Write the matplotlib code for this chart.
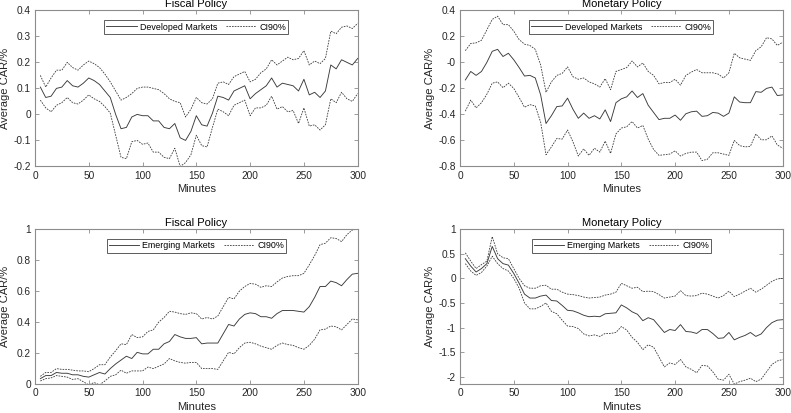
import numpy as np
import matplotlib
matplotlib.use("Agg")
import matplotlib.pyplot as plt

# minutes after announcement
minutes = np.arange(5, 301, 5)

# Fiscal policy, developed markets
fd_mean = [0.105, 0.065, 0.07, 0.10, 0.105, 0.13, 0.11, 0.105, 0.12, 0.14,
           0.13, 0.115, 0.09, 0.065, 0.0, -0.055, -0.05, -0.01, 0.0, -0.005,
           -0.005, -0.025, -0.025, -0.05, -0.055, -0.035, -0.09, -0.1, -0.065, -0.005,
           -0.04, -0.045, 0.005, 0.07, 0.065, 0.055, 0.09, 0.1, 0.11, 0.06,
           0.08, 0.095, 0.11, 0.14, 0.105, 0.12, 0.115, 0.11, 0.09, 0.135,
           0.075, 0.085, 0.065, 0.09, 0.19, 0.175, 0.21, 0.2, 0.19, 0.215]
fd_up = [0.15, 0.105, 0.14, 0.17, 0.17, 0.2, 0.18, 0.17, 0.19, 0.205,
         0.195, 0.18, 0.155, 0.125, 0.09, 0.055, 0.065, 0.08, 0.1, 0.105,
         0.105, 0.1, 0.095, 0.08, 0.06, 0.05, 0.045, -0.01, 0.02, 0.065,
         0.045, 0.04, 0.06, 0.12, 0.125, 0.115, 0.145, 0.155, 0.165, 0.125,
         0.135, 0.16, 0.175, 0.21, 0.19, 0.205, 0.22, 0.21, 0.215, 0.245,
         0.19, 0.205, 0.195, 0.215, 0.32, 0.31, 0.335, 0.34, 0.33, 0.35]
fd_lo = [0.055, 0.025, 0.01, 0.035, 0.045, 0.065, 0.045, 0.04, 0.055, 0.075,
         0.06, 0.05, 0.03, 0.005, -0.08, -0.165, -0.17, -0.105, -0.1, -0.115,
         -0.11, -0.145, -0.145, -0.165, -0.17, -0.13, -0.2, -0.185, -0.155, -0.08,
         -0.12, -0.125, -0.05, 0.02, 0.01, -0.005, 0.035, 0.045, 0.055, -0.005,
         0.025, 0.025, 0.035, 0.07, 0.02, 0.03, 0.01, 0.015, -0.035, 0.025,
         -0.045, -0.04, -0.06, -0.04, 0.06, 0.045, 0.085, 0.06, 0.05, 0.08]

# Monetary policy, developed markets
md_mean = [-0.135, -0.07, -0.1, -0.07, 0.0, 0.085, 0.1, 0.045, 0.07, 0.02,
           -0.04, -0.105, -0.1, -0.12, -0.25, -0.47, -0.41, -0.34, -0.335, -0.275,
           -0.36, -0.43, -0.39, -0.43, -0.41, -0.435, -0.365, -0.455, -0.31, -0.28,
           -0.265, -0.22, -0.27, -0.24, -0.33, -0.385, -0.44, -0.43, -0.43, -0.405,
           -0.445, -0.395, -0.38, -0.375, -0.415, -0.41, -0.385, -0.39, -0.415, -0.39,
           -0.265, -0.305, -0.31, -0.31, -0.225, -0.23, -0.2, -0.19, -0.255, -0.25]
md_up = [0.09, 0.145, 0.15, 0.17, 0.25, 0.33, 0.355, 0.29, 0.29, 0.24,
         0.175, 0.14, 0.13, 0.1, -0.02, -0.23, -0.15, -0.1, -0.085, -0.035,
         -0.11, -0.13, -0.12, -0.15, -0.165, -0.19, -0.125, -0.21, -0.07, -0.055,
         -0.04, 0.01, -0.035, -0.005, -0.07, -0.1, -0.165, -0.155, -0.155, -0.13,
         -0.175, -0.1, -0.075, -0.055, -0.08, -0.08, -0.08, -0.09, -0.12, -0.08,
         0.07, 0.035, 0.025, 0.015, 0.09, 0.12, 0.19, 0.18, 0.13, 0.155]
md_lo = [-0.375, -0.29, -0.35, -0.31, -0.245, -0.16, -0.15, -0.195, -0.16, -0.2,
         -0.27, -0.345, -0.325, -0.335, -0.46, -0.71, -0.65, -0.585, -0.59, -0.52,
         -0.61, -0.72, -0.665, -0.715, -0.66, -0.69, -0.605, -0.7, -0.55, -0.505,
         -0.495, -0.455, -0.505, -0.485, -0.59, -0.67, -0.715, -0.71, -0.705, -0.68,
         -0.72, -0.7, -0.69, -0.69, -0.755, -0.745, -0.695, -0.695, -0.705, -0.715,
         -0.6, -0.64, -0.65, -0.645, -0.55, -0.595, -0.595, -0.565, -0.635, -0.66]

# Fiscal policy, emerging markets
fe_mean = [0.035, 0.055, 0.055, 0.075, 0.07, 0.07, 0.06, 0.06, 0.05, 0.045,
           0.06, 0.075, 0.065, 0.1, 0.13, 0.155, 0.18, 0.165, 0.205, 0.195,
           0.195, 0.225, 0.225, 0.26, 0.275, 0.32, 0.305, 0.295, 0.295, 0.3,
           0.26, 0.265, 0.265, 0.265, 0.325, 0.385, 0.375, 0.42, 0.45, 0.46,
           0.455, 0.435, 0.435, 0.425, 0.455, 0.475, 0.475, 0.475, 0.47, 0.465,
           0.5, 0.56, 0.63, 0.63, 0.665, 0.655, 0.635, 0.675, 0.71, 0.715]
fe_up = [0.05, 0.075, 0.075, 0.1, 0.095, 0.095, 0.09, 0.085, 0.085, 0.08,
         0.1, 0.125, 0.125, 0.175, 0.215, 0.26, 0.255, 0.32, 0.3, 0.305,
         0.34, 0.35, 0.4, 0.43, 0.47, 0.465, 0.455, 0.45, 0.46, 0.455,
         0.42, 0.43, 0.42, 0.44, 0.5, 0.56, 0.55, 0.6, 0.63, 0.65,
         0.645, 0.625, 0.635, 0.63, 0.66, 0.685, 0.695, 0.7, 0.7, 0.715,
         0.77, 0.83, 0.9, 0.91, 0.945, 0.94, 0.92, 0.965, 0.995, 1.0]
fe_lo = [0.02, 0.035, 0.04, 0.055, 0.05, 0.045, 0.03, 0.035, 0.015, -0.005,
         0.01, -0.005, 0.02, 0.05, 0.06, 0.09, 0.07, 0.085, 0.085, 0.085,
         0.11, 0.1, 0.115, 0.13, 0.165, 0.15, 0.14, 0.135, 0.14, 0.14,
         0.1, 0.1, 0.1, 0.095, 0.15, 0.205, 0.195, 0.235, 0.265, 0.27,
         0.26, 0.245, 0.235, 0.225, 0.25, 0.265, 0.255, 0.25, 0.235, 0.225,
         0.25, 0.29, 0.35, 0.355, 0.375, 0.37, 0.35, 0.385, 0.42, 0.415]

# Monetary policy, emerging markets
me_mean = [0.4, 0.25, 0.13, 0.2, 0.3, 0.65, 0.4, 0.3, 0.27, 0.1,
           -0.1, -0.32, -0.4, -0.4, -0.36, -0.34, -0.45, -0.46, -0.55, -0.65,
           -0.66, -0.7, -0.75, -0.78, -0.77, -0.78, -0.72, -0.71, -0.7, -0.54,
           -0.6, -0.68, -0.73, -0.86, -0.8, -0.84, -0.97, -1.1, -1.04, -1.06,
           -0.94, -1.08, -1.09, -1.12, -1.04, -1.04, -1.12, -1.22, -1.21, -1.1,
           -1.25, -1.2, -1.16, -1.1, -1.18, -1.13, -1.0, -0.9, -0.85, -0.84]
me_up = [0.52, 0.35, 0.2, 0.28, 0.35, 0.85, 0.5, 0.42, 0.4, 0.2,
         0.0, -0.15, -0.2, -0.2, -0.15, -0.14, -0.22, -0.22, -0.28, -0.32,
         -0.33, -0.35, -0.38, -0.4, -0.39, -0.38, -0.34, -0.32, -0.28, -0.1,
         -0.15, -0.2, -0.18, -0.27, -0.26, -0.27, -0.33, -0.4, -0.38, -0.36,
         -0.25, -0.35, -0.36, -0.35, -0.3, -0.32, -0.36, -0.4, -0.35, -0.26,
         -0.37, -0.32, -0.26, -0.2, -0.28, -0.22, -0.14, -0.06, -0.01, 0.0]
me_lo = [0.3, 0.15, 0.06, 0.12, 0.25, 0.45, 0.3, 0.2, 0.15, 0.0,
         -0.2, -0.5, -0.62, -0.62, -0.57, -0.5, -0.67, -0.72, -0.85, -0.97,
         -0.98, -1.02, -1.13, -1.17, -1.15, -1.18, -1.12, -1.12, -1.1, -0.98,
         -1.05, -1.2, -1.3, -1.45, -1.35, -1.4, -1.6, -1.8, -1.72, -1.75,
         -1.65, -1.8, -1.85, -1.92, -1.77, -1.78, -1.9, -2.05, -2.07, -1.95,
         -2.15, -2.1, -2.07, -2.03, -2.1, -2.05, -1.9, -1.75, -1.68, -1.65]

plt.rcParams['font.family'] = ['Liberation Sans', 'DejaVu Sans']

fig = plt.figure(figsize=(7.91, 4.13), dpi=100)

panels = [
    ([0.0442, 0.597, 0.408, 0.378], "Fiscal Policy", "Developed Markets",
     fd_mean, fd_up, fd_lo, (-0.2, 0.4), np.arange(-0.2, 0.41, 0.1)),
    ([0.5815, 0.597, 0.408, 0.378], "Monetary Policy", "Developed Markets",
     md_mean, md_up, md_lo, (-0.8, 0.4), np.arange(-0.8, 0.41, 0.2)),
    ([0.0442, 0.070, 0.408, 0.375], "Fiscal Policy", "Emerging Markets",
     fe_mean, fe_up, fe_lo, (0, 1), np.arange(0, 1.01, 0.2)),
    ([0.5815, 0.070, 0.408, 0.375], "Monetary Policy", "Emerging Markets",
     me_mean, me_up, me_lo, (-2.15, 1), np.arange(-2, 1.01, 0.5)),
]

txt = '#262626'
edge = '#8c8c8c'
line_col = '#3a3a3a'

for rect, title, name, mean, up, lo, ylim, yt in panels:
    ax = fig.add_axes(rect)
    l1, = ax.plot(minutes, mean, color=line_col, lw=0.65, label=name)
    l2, = ax.plot(minutes, up, color=line_col, lw=0.6, dashes=(2, 1.3), label='CI90%')
    ax.plot(minutes, lo, color=line_col, lw=0.6, dashes=(2, 1.3))
    ax.set_xlim(0, 300)
    ax.set_ylim(*ylim)
    ax.set_xticks(np.arange(0, 301, 50))
    ax.set_yticks(yt)
    ax.set_yticklabels(["%g" % round(v, 2) for v in yt])
    ax.set_title(title, fontsize=8, color='black', pad=2.5)
    ax.set_xlabel("Minutes", fontsize=8, color=txt, labelpad=2.5)
    ax.set_ylabel("Average CAR/%", fontsize=8, color=txt)
    ax.yaxis.set_label_coords(-0.078, 0.5)
    ax.tick_params(direction='in', top=True, right=True, length=3, width=0.6,
                   colors=edge, labelcolor=txt, labelsize=7.3, pad=3)
    for sp in ax.spines.values():
        sp.set_color(edge)
        sp.set_linewidth(0.8)
    leg = ax.legend(handles=[l1, l2], loc='upper center', ncol=2, fontsize=6.4,
                    frameon=True, fancybox=False, borderpad=0.25, handlelength=3.4,
                    columnspacing=1.0, handletextpad=0.35, borderaxespad=0,
                    bbox_to_anchor=(0.5, 0.936))
    leg.get_frame().set_edgecolor('#333333')
    leg.get_frame().set_linewidth(0.7)

fig.savefig("out.png", dpi=100)
